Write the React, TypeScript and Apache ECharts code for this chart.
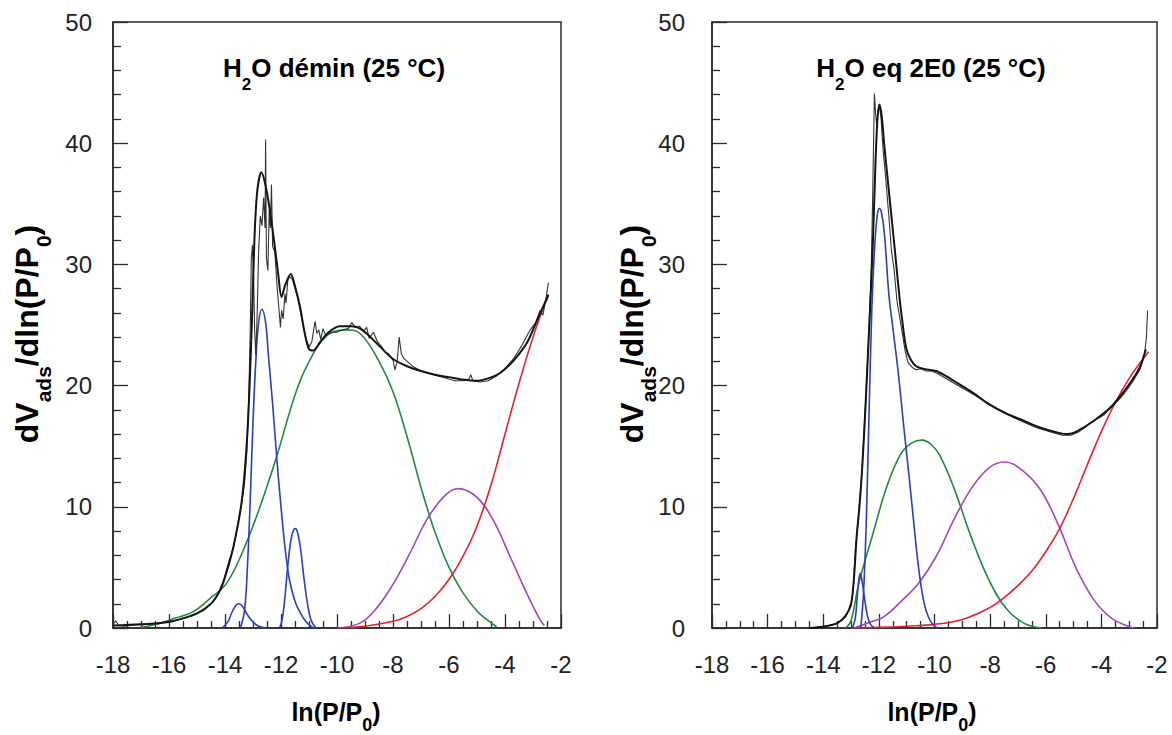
import React, { useEffect, useRef } from "react";
import * as echarts from "echarts";

type Pt = [number, number];

// ---------- Left panel : H2O démin (25 °C) ----------
const L_FIT: Pt[] = [
  [-18, 0.2], [-17, 0.3], [-16, 0.5], [-15.5, 0.8], [-15, 1.2], [-14.5, 2.0], [-14.2, 3.0], [-14, 4.2],
  [-13.7, 6.7], [-13.4, 10.5], [-13.2, 16.1], [-13.05, 24.5], [-12.95, 32], [-12.85, 36], [-12.7, 37.6],
  [-12.55, 36.5], [-12.4, 34.5], [-12.25, 32], [-12.1, 29.2], [-11.98, 27.3], [-11.85, 28.3], [-11.65, 29.2],
  [-11.5, 28.2], [-11.32, 26.5], [-11.15, 24.3], [-11.0, 23.0], [-10.85, 22.9], [-10.6, 23.6], [-10.3, 24.4],
  [-9.9, 24.9], [-9.5, 24.9], [-9.1, 24.6], [-8.5, 23.3], [-8, 22.2], [-7.5, 21.6], [-7, 21.2], [-6.5, 20.9],
  [-6, 20.7], [-5.5, 20.5], [-5, 20.4], [-4.6, 20.6], [-4.2, 21.0], [-3.8, 21.8], [-3.5, 22.6], [-3.2, 23.6],
  [-3, 24.6], [-2.8, 25.7], [-2.6, 26.7], [-2.45, 27.5],
];
const L_DATA: Pt[] = [
  [-18, 0.3], [-17.9, 0.6], [-17.8, 0.2], [-17.6, 0.15], [-17.2, 0.25], [-16.8, 0.3], [-16.4, 0.4], [-16, 0.55],
  [-15.6, 0.7], [-15.2, 1.0], [-14.8, 1.4], [-14.5, 2.0], [-14.25, 2.8], [-14.05, 3.9], [-13.85, 5.6], [-13.7, 6.6],
  [-13.6, 7.8], [-13.5, 9.2], [-13.4, 10.3], [-13.3, 12.0], [-13.22, 14.5], [-13.15, 19], [-13.1, 24.5],
  [-13.06, 30.5], [-13.02, 31.6], [-12.98, 29], [-12.94, 24.5], [-12.9, 22.5], [-12.85, 26], [-12.8, 31],
  [-12.74, 34], [-12.68, 33.2], [-12.62, 35.5], [-12.57, 33], [-12.55, 40.3], [-12.52, 30.5], [-12.47, 29.5],
  [-12.42, 34.5], [-12.38, 33], [-12.34, 36.6], [-12.3, 31.5], [-12.22, 31], [-12.15, 28.5], [-12.08, 26.5],
  [-12.02, 24.8], [-11.98, 26.2], [-11.92, 25.5], [-11.86, 27.6], [-11.82, 26.8], [-11.76, 28.6], [-11.7, 29.0],
  [-11.6, 28.8], [-11.5, 28.0], [-11.4, 27.2], [-11.3, 26.0], [-11.2, 24.8], [-11.1, 23.8], [-11.0, 23.2],
  [-10.9, 23.6], [-10.82, 24.8], [-10.78, 25.3], [-10.72, 24.3], [-10.65, 24.6], [-10.58, 23.8], [-10.5, 24.7],
  [-10.4, 24.1], [-10.3, 24.3], [-10.15, 24.4], [-10.0, 24.4], [-9.8, 24.6], [-9.6, 24.7], [-9.47, 25.2],
  [-9.35, 24.8], [-9.2, 24.9], [-9.05, 24.5], [-8.94, 24.8], [-8.85, 23.9], [-8.7, 24.4], [-8.55, 23.6],
  [-8.4, 23.2], [-8.3, 22.8], [-8.15, 22.6], [-8.0, 22.1], [-7.93, 21.3], [-7.85, 22.0], [-7.78, 24.0],
  [-7.7, 22.6], [-7.6, 22.2], [-7.3, 21.6], [-7.0, 21.2], [-6.7, 21.0], [-6.4, 20.8], [-6.1, 20.6], [-5.8, 20.4],
  [-5.5, 20.4], [-5.3, 20.5], [-5.22, 20.9], [-5.15, 20.4], [-4.9, 20.3], [-4.6, 20.4], [-4.3, 20.8], [-4.0, 21.4],
  [-3.7, 22.2], [-3.4, 23.3], [-3.1, 24.6], [-2.9, 25.2], [-2.75, 26.2], [-2.65, 25.8], [-2.55, 27.0], [-2.45, 28.5],
];
const L_BLUE_1: Pt[] = [
  [-14.1, 0], [-13.9, 0.5], [-13.75, 1.3], [-13.6, 1.9], [-13.5, 2.0], [-13.35, 1.7], [-13.2, 1.1], [-13.0, 0.5],
  [-12.8, 0.15], [-12.5, 0],
];
const L_BLUE_2: Pt[] = [
  [-13.45, 0], [-13.3, 1.5], [-13.2, 5], [-13.1, 10.5], [-13.0, 17], [-12.9, 22], [-12.8, 25.2], [-12.68, 26.3],
  [-12.55, 25.2], [-12.45, 22.5], [-12.3, 18.5], [-12.15, 14], [-12.0, 10], [-11.85, 6.5], [-11.7, 4],
  [-11.5, 2.2], [-11.3, 1.2], [-11.1, 0.5], [-10.9, 0.1], [-10.8, 0],
];
const L_BLUE_3: Pt[] = [
  [-12.05, 0], [-11.95, 0.8], [-11.85, 2.8], [-11.75, 5.3], [-11.65, 7.2], [-11.55, 8.1], [-11.48, 8.2],
  [-11.4, 7.8], [-11.3, 6.5], [-11.2, 4.5], [-11.1, 2.7], [-11.0, 1.3], [-10.9, 0.5], [-10.75, 0],
];
const L_GREEN: Pt[] = [
  [-17, 0.05], [-16.3, 0.4], [-15.8, 0.8], [-15.13, 1.35], [-14.5, 2.5], [-13.94, 3.7], [-13.35, 6.4],
  [-12.75, 10.0], [-12.16, 14.1], [-11.56, 18.8], [-11.08, 21.6], [-10.37, 24.1], [-9.7, 24.6], [-9.18, 24.3],
  [-8.5, 22.0], [-8.0, 19.5], [-7.5, 15.8], [-7.0, 11.6], [-6.7, 9.3], [-6.5, 7.9], [-6.0, 5.0], [-5.5, 2.9],
  [-5.0, 1.4], [-4.6, 0.6], [-4.3, 0.1],
];
const L_PURPLE: Pt[] = [
  [-10.0, 0], [-9.18, 0.4], [-8.6, 1.6], [-8.0, 3.6], [-7.39, 6.2], [-6.8, 8.9], [-6.2, 10.8], [-5.67, 11.5],
  [-5.01, 10.8], [-4.42, 8.9], [-3.82, 5.9], [-3.23, 2.9], [-2.8, 0.9], [-2.6, 0.2],
];
const L_RED: Pt[] = [
  [-10.0, 0], [-9.0, 0.15], [-8.0, 0.55], [-7.5, 0.95], [-7.0, 1.6], [-6.5, 2.6], [-6.0, 4.0], [-5.5, 5.9],
  [-5.0, 8.4], [-4.5, 11.8], [-4.0, 16.0], [-3.5, 20.2], [-3.0, 24.0], [-2.7, 26.0], [-2.45, 27.4],
];

// ---------- Right panel : H2O eq 2E0 (25 °C) ----------
const R_FIT: Pt[] = [
  [-14.5, 0], [-14, 0.1], [-13.5, 0.4], [-13.2, 1.0], [-13.0, 2.0], [-12.9, 4.0], [-12.8, 7.5], [-12.7, 10],
  [-12.6, 13.2], [-12.47, 18.8], [-12.34, 25.2], [-12.22, 31.5], [-12.12, 38.5], [-12.05, 42.0], [-11.98, 43.2],
  [-11.9, 42.3], [-11.8, 39.7], [-11.62, 35.6], [-11.44, 31.5], [-11.26, 27.3], [-11.14, 25.0], [-11.05, 23.5],
  [-10.95, 22.6], [-10.75, 21.8], [-10.57, 21.5], [-10.2, 21.3], [-9.94, 21.2], [-9.6, 20.8], [-9.31, 20.4],
  [-8.68, 19.5], [-8.05, 18.5], [-7.42, 17.7], [-6.79, 17.1], [-6.16, 16.5], [-5.53, 16.1], [-5.2, 16.0],
  [-4.9, 16.2], [-4.27, 17.1], [-3.63, 18.3], [-3.0, 20.1], [-2.6, 21.6], [-2.4, 23.0],
];
const R_DATA: Pt[] = [
  [-14.5, 0], [-14, 0.15], [-13.5, 0.35], [-13.2, 0.9], [-13.0, 1.8], [-12.92, 3.2], [-12.85, 6.2], [-12.75, 8.8],
  [-12.62, 12.5], [-12.5, 17.5], [-12.38, 23.5], [-12.28, 29], [-12.22, 36], [-12.18, 41.5], [-12.16, 44.1],
  [-12.12, 42.5], [-12.08, 41.5], [-12.03, 42.6], [-11.98, 43.0], [-11.92, 42.0], [-11.85, 39.5], [-11.75, 37.0],
  [-11.65, 34.2], [-11.55, 31.2], [-11.45, 29.5], [-11.35, 27.0], [-11.25, 25.6], [-11.15, 24.2], [-11.05, 22.8],
  [-10.95, 21.9], [-10.8, 21.5], [-10.65, 21.3], [-10.5, 21.4], [-10.3, 21.2], [-10.1, 21.2], [-9.9, 21.0],
  [-9.6, 20.6], [-9.3, 20.2], [-9.0, 19.8], [-8.7, 19.4], [-8.4, 19.0], [-8.1, 18.5], [-7.8, 18.1], [-7.5, 17.8],
  [-7.2, 17.4], [-6.9, 17.1], [-6.6, 16.8], [-6.3, 16.5], [-6.0, 16.3], [-5.7, 16.1], [-5.4, 15.9], [-5.1, 15.9],
  [-4.8, 16.2], [-4.5, 16.7], [-4.2, 17.2], [-3.9, 17.6], [-3.6, 18.3], [-3.3, 19.0], [-3.0, 19.9], [-2.8, 20.6],
  [-2.6, 21.4], [-2.45, 22.5], [-2.38, 24.0], [-2.34, 26.2],
];
const R_BLUE_1: Pt[] = [
  [-12.95, 0], [-12.85, 0.8], [-12.78, 2.5], [-12.72, 4.0], [-12.67, 4.5], [-12.6, 3.8], [-12.5, 2.2],
  [-12.4, 0.9], [-12.3, 0.3], [-12.15, 0],
];
const R_BLUE_2: Pt[] = [
  [-12.65, 0], [-12.55, 3], [-12.45, 9], [-12.35, 18], [-12.25, 26.5], [-12.15, 31.5], [-12.05, 34.2],
  [-11.98, 34.6], [-11.9, 34.2], [-11.8, 32.5], [-11.64, 27.5], [-11.5, 24.8], [-11.3, 21], [-11.1, 16.5],
  [-10.9, 12.2], [-10.75, 8.8], [-10.6, 5.5], [-10.45, 3], [-10.3, 1.4], [-10.1, 0.4], [-9.9, 0],
];
const R_GREEN: Pt[] = [
  [-13.2, 0], [-13.0, 0.6], [-12.72, 3.7], [-12.21, 7.8], [-11.71, 11.7], [-11.2, 14.4], [-10.8, 15.3],
  [-10.45, 15.5], [-10.1, 15.1], [-9.8, 14.2], [-9.31, 11.6], [-8.68, 7.5], [-8.05, 4.0], [-7.42, 1.6],
  [-6.79, 0.4], [-6.16, 0],
];
const R_PURPLE: Pt[] = [
  [-12.9, 0], [-12.3, 0.5], [-11.84, 0.9], [-11.2, 2.2], [-10.57, 3.7], [-9.94, 5.9], [-9.31, 8.9], [-8.68, 11.5],
  [-8.05, 13.2], [-7.48, 13.7], [-6.79, 12.9], [-6.16, 11.3], [-5.53, 8.4], [-4.9, 4.9], [-4.26, 2.3],
  [-3.63, 0.8], [-3.0, 0.1], [-2.8, 0],
];
const R_RED: Pt[] = [
  [-13.0, 0], [-12.0, 0.05], [-11.0, 0.15], [-10.0, 0.3], [-9.0, 0.7], [-8.0, 1.7], [-7.5, 2.5], [-7.0, 3.5],
  [-6.5, 4.7], [-6.0, 6.3], [-5.5, 8.2], [-5.0, 10.7], [-4.5, 13.5], [-4.0, 16.2], [-3.5, 18.6], [-3.0, 20.6],
  [-2.6, 21.9], [-2.3, 22.8],
];

const TITLES = ["H{s|2}O démin (25 °C)", "H{s|2}O eq 2E0 (25 °C)"];
const X_NAME = "ln(P/P{s|0})";
const Y_NAME = "dV{s|ads}/dln(P/P{s|0})";

const BLUE = "#2a3fb8";
const GREEN = "#1f8a3e";
const PURPLE = "#a545c4";
const RED = "#e3232c";
const BLACK = "#151515";

export default function App() {
  const ref = useRef<HTMLDivElement>(null);
  useEffect(() => {
    const chart = echarts.init(ref.current!, null, { renderer: "svg" });
    const FONT = "'Liberation Sans', Arial, sans-serif";
    const AX = "#2a2a2a";
    const grids = [
      { left: 113, top: 22, width: 448, height: 606 },
      { left: 712, top: 22, width: 445, height: 606 },
    ];
    const mkX = (gi: number) => ({
      type: "value", gridIndex: gi, min: -18, max: -2, interval: 2,
      axisLine: { show: true, onZero: false, lineStyle: { color: AX, width: 1.5 } },
      axisTick: { show: true, inside: true, length: 14, lineStyle: { color: AX, width: 1.3 } },
      minorTick: { show: true, splitNumber: 4, length: 7, lineStyle: { color: AX, width: 1.3 } },
      splitLine: { show: false }, minorSplitLine: { show: false },
      axisLabel: { margin: 24, fontSize: 24, color: "#222", fontFamily: FONT },
    });
    const mkY = (gi: number, margin: number) => ({
      type: "value", gridIndex: gi, min: 0, max: 50, interval: 10,
      axisLine: { show: true, onZero: false, lineStyle: { color: AX, width: 1.5 } },
      axisTick: { show: true, inside: true, length: 15, lineStyle: { color: AX, width: 1.3 } },
      minorTick: { show: true, splitNumber: 5, length: 8, lineStyle: { color: AX, width: 1.3 } },
      splitLine: { show: false }, minorSplitLine: { show: false },
      axisLabel: { margin, fontSize: 24, color: "#222", fontFamily: FONT },
    });
    const line = (gi: number, data: Pt[], color: string, width: number, smooth: boolean | number) => ({
      type: "line", xAxisIndex: gi, yAxisIndex: gi, data, showSymbol: false, symbol: "none",
      smooth, silent: true, lineStyle: { color, width }, z: 3,
    });
    const boldRich = (size: number, sub: number, pad: number) => ({
      b: { fontFamily: FONT, fontWeight: "bold", fontSize: size, lineHeight: size + 4, color: BLACK },
      s: { fontFamily: FONT, fontWeight: "bold", fontSize: sub, lineHeight: sub, padding: [pad, 0, 0, 0], color: BLACK },
    });
    const richText = (t: string) => t.split(/(\{s\|[^}]*\})/).filter(Boolean).map((p) => (p.startsWith("{s|") ? p : `{b|${p}}`)).join("");
    const txt = (x: number, y: number, text: string, size: number, sub: number, pad: number, rotation = 0) => ({
      type: "text", x, y, rotation, silent: true,
      style: { text: richText(text), rich: boldRich(size, sub, pad), align: "center", verticalAlign: "middle" },
    });

    chart.setOption({
      animation: false,
      backgroundColor: "#ffffff",
      grid: grids.map((g) => ({ ...g, show: true, borderColor: AX, borderWidth: 1.5, backgroundColor: "transparent", containLabel: false })),
      xAxis: [mkX(0), mkX(1)],
      yAxis: [mkY(0, 21), mkY(1, 27)],
      series: [
        line(0, L_GREEN, GREEN, 1.6, 0.4),
        line(0, L_PURPLE, PURPLE, 1.6, 0.4),
        line(0, L_RED, RED, 1.6, 0.4),
        line(0, L_BLUE_1, BLUE, 1.6, 0.4),
        line(0, L_BLUE_2, BLUE, 1.6, 0.4),
        line(0, L_BLUE_3, BLUE, 1.6, 0.4),
        line(0, L_DATA, "#333", 1.1, false),
        line(0, L_FIT, BLACK, 2, 0.3),
        line(1, R_GREEN, GREEN, 1.6, 0.4),
        line(1, R_PURPLE, PURPLE, 1.6, 0.4),
        line(1, R_RED, RED, 1.6, 0.4),
        line(1, R_BLUE_1, BLUE, 1.6, 0.4),
        line(1, R_BLUE_2, BLUE, 1.6, 0.4),
        line(1, R_DATA, "#333", 1.1, false),
        line(1, R_FIT, BLACK, 2, 0.3),
      ],
      graphic: [
        txt(334, 68, TITLES[0], 26, 17, 33),
        txt(931, 68, TITLES[1], 26, 17, 33),
        txt(336, 712, X_NAME, 25, 18, 26),
        txt(932, 712, X_NAME, 25, 18, 26),
        txt(27, 334, Y_NAME, 32, 21, 32, Math.PI / 2),
        txt(632, 334, Y_NAME, 32, 21, 32, Math.PI / 2),
      ],
    });
    return () => chart.dispose();
  }, []);
  return <div ref={ref} style={{ position: "absolute", left: 0, top: 0, width: 1172, height: 735 }} />;
}
